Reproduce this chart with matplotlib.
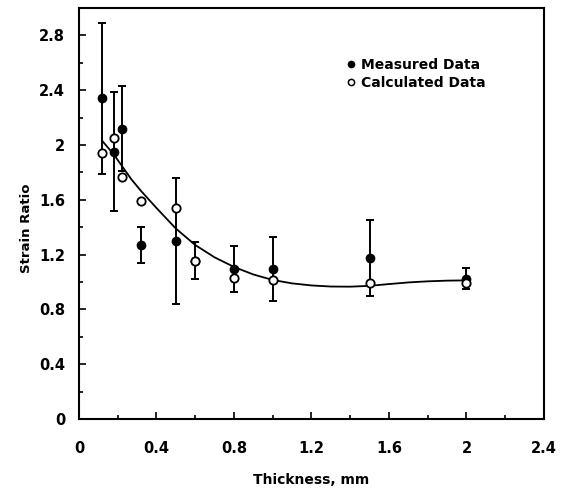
import matplotlib
matplotlib.use("Agg")
import matplotlib.pyplot as plt
from matplotlib.ticker import MultipleLocator
from matplotlib.lines import Line2D

# values
thickness = [0.12, 0.18, 0.22, 0.32, 0.50, 0.60, 0.80, 1.00, 1.50, 2.00]
measured = [2.34, 1.95, 2.12, 1.27, 1.30, 1.155, 1.095, 1.095, 1.175, 1.025]
meas_err = [0.55, 0.435, 0.31, 0.13, 0.46, 0.135, 0.17, 0.235, 0.275, 0.075]
calculated = [1.945, 2.05, 1.77, 1.59, 1.54, 1.15, 1.03, 1.015, 0.995, 0.995]

# fitted curve
fit_x = [0.12, 0.15, 0.18, 0.22, 0.27, 0.32, 0.40, 0.50, 0.60, 0.70, 0.80, 0.90,
         1.00, 1.10, 1.20, 1.30, 1.40, 1.50, 1.60, 1.70, 1.80, 1.90, 2.00]
fit_y = [2.03, 1.98, 1.93, 1.85, 1.75, 1.665, 1.54, 1.39, 1.27, 1.18, 1.11, 1.055,
         1.015, 0.99, 0.975, 0.967, 0.966, 0.972, 0.985, 0.997, 1.005, 1.01, 1.012]

x_ticks = [0, 0.4, 0.8, 1.2, 1.6, 2, 2.4]
y_ticks = [0, 0.4, 0.8, 1.2, 1.6, 2, 2.4, 2.8]

plt.rcParams['font.family'] = ['DejaVu Sans']

fig = plt.figure(figsize=(5.66, 4.91), dpi=100)
ax = fig.add_axes([0.1396, 0.1466, 0.8214, 0.8371])

ax.plot(fit_x, fit_y, color='black', lw=1.3, zorder=2)
ax.errorbar(thickness, measured, yerr=meas_err, fmt='o', color='black',
            ms=6, elinewidth=1.4, capsize=3, capthick=1.4, zorder=3)
ax.plot(thickness, calculated, 'o', mfc='white', mec='black', mew=1.3, ms=6,
        zorder=4)

ax.set_xlim(0, 2.4)
ax.set_ylim(0, 3.0)
ax.set_xticks(x_ticks)
ax.set_xticklabels([f'{t:g}' for t in x_ticks])
ax.set_yticks(y_ticks)
ax.set_yticklabels([f'{t:g}' for t in y_ticks])
ax.xaxis.set_minor_locator(MultipleLocator(0.2))
ax.yaxis.set_minor_locator(MultipleLocator(0.2))
ax.tick_params(which='both', direction='in', width=1.2, top=False, right=False)
ax.tick_params(which='major', length=5, labelsize=10.5)
ax.tick_params(which='minor', length=3)
ax.tick_params(axis='x', which='major', pad=16)
ax.tick_params(axis='y', which='major', pad=10)
for lab in ax.get_xticklabels() + ax.get_yticklabels():
    lab.set_fontweight('bold')
for sp in ax.spines.values():
    sp.set_linewidth(1.5)

ax.set_xlabel('Thickness, mm', fontsize=10, fontweight='bold')
ax.xaxis.set_label_coords(0.5, -0.148)
ax.xaxis.label.set_va('center')
ax.set_ylabel('Strain Ratio', fontsize=9.5, fontweight='bold')
ax.yaxis.set_label_coords(-0.099, 0.465)

handles = [
    Line2D([], [], ls='none', marker='o', color='black', ms=4.5),
    Line2D([], [], ls='none', marker='o', mfc='white', mec='black', mew=1.1, ms=4.5),
]
ax.legend(handles, ['Measured Data', 'Calculated Data'], loc='upper left',
          bbox_to_anchor=(0.55, 0.909), frameon=False, handlelength=0.5,
          handletextpad=0.5, labelspacing=0.3,
          prop={'weight': 'bold', 'size': 10})

fig.savefig('out.png', dpi=100)
